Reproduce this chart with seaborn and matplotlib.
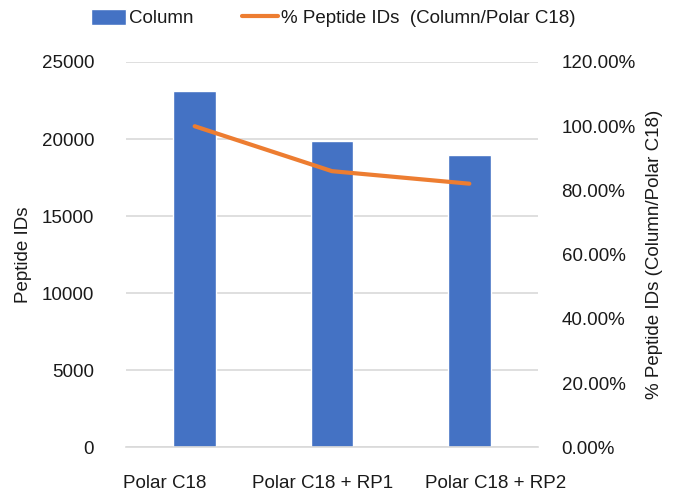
import matplotlib
matplotlib.use("Agg")
import matplotlib.pyplot as plt
import matplotlib.transforms as mtransforms
from matplotlib.ticker import FuncFormatter
import seaborn as sns
import pandas as pd

categories = ["Polar C18", "Polar C18 + RP1", "Polar C18 + RP2"]
peptide_ids = [23100, 19870, 18970]
pct_ids = [100.0, 86.0, 82.1]
left_ticks = [0, 5000, 10000, 15000, 20000, 25000]
right_ticks = [0, 20, 40, 60, 80, 100, 120]

sns.set_theme(style="white")
plt.rcParams["font.family"] = ["Liberation Sans", "DejaVu Sans"]
FS = 13.5
TXT = "#1a1a1a"
BAR = "#4472c4"
LINE = "#ed7d31"
GRID = "#d9d9d9"

df = pd.DataFrame({"cat": categories, "ids": peptide_ids, "pct": pct_ids})

fig = plt.figure(figsize=(6.76, 4.92), dpi=100)
ax = fig.add_axes([126 / 676, (492 - 447.3) / 492, 412 / 676, 385.3 / 492])

sns.barplot(data=df, x="cat", y="ids", color=BAR, saturation=1, width=0.31,
            ax=ax, label="Column", zorder=2)
ax.set_ylim(0, 25000)
ax.set_xlim(-0.5, 2.5)
ax.set_yticks(left_ticks)
ax.grid(axis="y", color=GRID, linewidth=1.2, zorder=0)
ax.set_axisbelow(True)
for s in ["top", "right", "left"]:
    ax.spines[s].set_visible(False)
ax.spines["bottom"].set_color(GRID)
ax.spines["bottom"].set_linewidth(1.2)
ax.tick_params(axis="y", length=0, pad=23, labelsize=FS, labelcolor=TXT)
ax.tick_params(axis="x", length=0, pad=20, labelsize=FS, labelcolor=TXT)
ax.set_xlabel("")
ax.set_ylabel("Peptide IDs", fontsize=FS, color=TXT)
ax.yaxis.set_label_coords(-94 / 412, 0.5)

# x label offsets to match reference placement
offsets = [-30, -9, 26]
for lbl, dx in zip(ax.get_xticklabels(), offsets):
    lbl.set_transform(lbl.get_transform() + mtransforms.ScaledTranslation(dx / 100, 0, fig.dpi_scale_trans))

ax2 = ax.twinx()
sns.lineplot(data=df, x="cat", y="pct", color=LINE, linewidth=3.0, ax=ax2,
             label="% Peptide IDs  (Column/Polar C18)", zorder=3,
             solid_capstyle="round")
ax2.set_ylim(0, 120)
ax2.set_yticks(right_ticks)
ax2.yaxis.set_major_formatter(FuncFormatter(lambda v, p: f"{v:.2f}%"))
for s in ["top", "right", "left", "bottom"]:
    ax2.spines[s].set_visible(False)
ax2.tick_params(axis="y", length=0, pad=17, labelsize=FS, labelcolor=TXT)
ax2.set_ylabel("% Peptide IDs (Column/Polar C18)", fontsize=FS, color=TXT)
ax2.yaxis.set_label_coords(1 + 108 / 412, 0.5)
ax2.grid(False)

h1, l1 = ax.get_legend_handles_labels()
h2, l2 = ax2.get_legend_handles_labels()
if ax.get_legend():
    ax.get_legend().remove()
if ax2.get_legend():
    ax2.get_legend().remove()
fig.legend(h1 + h2, l1 + l2, loc="center", bbox_to_anchor=(333 / 676, 1 - 18 / 492),
           ncol=2, frameon=False, fontsize=FS, labelcolor=TXT,
           handlelength=1.9, handleheight=1.0, handletextpad=0.15, columnspacing=2.6)

fig.savefig("out.png", dpi=100)
